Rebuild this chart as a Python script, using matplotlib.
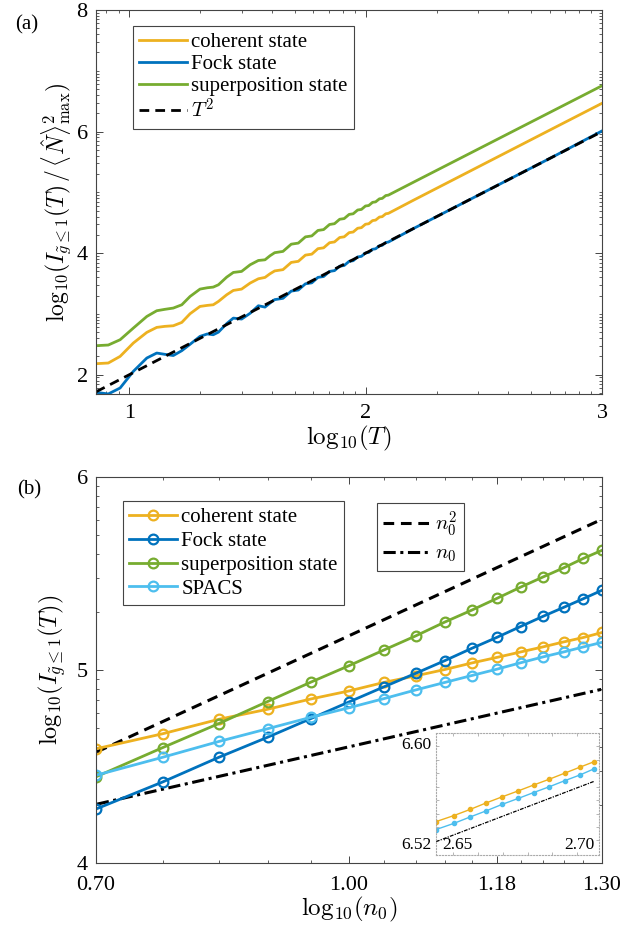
import numpy as np
import matplotlib
matplotlib.use('Agg')
from matplotlib import pyplot as plt
from matplotlib.lines import Line2D

plt.rcParams['font.family'] = ['Liberation Serif', 'DejaVu Serif']
plt.rcParams['mathtext.fontset'] = 'cm'

# colours (MATLAB default order)
c_coh = '#EDB120'
c_fock = '#0072BD'
c_sup = '#77AC30'
c_spacs = '#4DBEEE'

# ---- panel (a): log10(T) vs log10(I / <N>^2_max) ----
logT = [0.859, 0.911, 0.961, 1.017, 1.074, 1.116, 1.150, 1.186, 1.222, 1.257,
        1.299, 1.330, 1.355, 1.377, 1.412, 1.440, 1.475, 1.511, 1.546, 1.574,
        1.595, 1.615, 1.650, 1.685, 1.715, 1.745, 1.772, 1.798, 1.822, 1.847,
        1.868, 1.890, 1.909, 1.930, 1.947, 1.966, 1.982, 1.999, 2.013, 2.029,
        2.042, 2.058, 2.070, 2.085, 2.096, 2.2, 2.4, 2.6, 2.8, 3.0]
a_coherent = [2.181, 2.192, 2.301, 2.521, 2.696, 2.778, 2.795, 2.805, 2.860, 3.003,
              3.123, 3.140, 3.150, 3.205, 3.315, 3.386, 3.408, 3.507, 3.578, 3.600,
              3.660, 3.707, 3.728, 3.847, 3.865, 3.967, 3.983, 4.073, 4.087, 4.171,
              4.184, 4.257, 4.268, 4.337, 4.347, 4.409, 4.419, 4.475, 4.483, 4.535,
              4.543, 4.593, 4.600, 4.647, 4.654, 4.866, 5.266, 5.666, 6.066, 6.465]
a_fock = [1.710, 1.683, 1.781, 2.055, 2.274, 2.356, 2.335, 2.315, 2.395, 2.500,
          2.630, 2.670, 2.657, 2.700, 2.840, 2.931, 2.915, 3.010, 3.134, 3.112,
          3.178, 3.235, 3.256, 3.375, 3.393, 3.495, 3.511, 3.601, 3.615, 3.699,
          3.712, 3.785, 3.796, 3.865, 3.875, 3.937, 3.947, 4.003, 4.011, 4.063,
          4.071, 4.121, 4.128, 4.175, 4.182, 4.400, 4.800, 5.200, 5.600, 6.010]
a_superpos = [2.477, 2.488, 2.575, 2.767, 2.958, 3.052, 3.075, 3.096, 3.150, 3.287,
              3.408, 3.430, 3.441, 3.479, 3.605, 3.682, 3.699, 3.808, 3.879, 3.890,
              3.956, 4.007, 4.028, 4.147, 4.165, 4.267, 4.283, 4.373, 4.387, 4.471,
              4.484, 4.557, 4.568, 4.637, 4.647, 4.709, 4.719, 4.775, 4.783, 4.835,
              4.843, 4.893, 4.900, 4.947, 4.954, 5.162, 5.560, 5.958, 6.356, 6.754]
T2_x = [0.859, 3.0]
T2_y = [1.718, 6.0]

# ---- panel (b): log10(n0) vs log10(I) ----
n0 = [5, 6, 7, 8, 9, 10, 11, 12, 13, 14, 15, 16, 17, 18, 19, 20]
b_coherent = [4.592, 4.670, 4.745, 4.797, 4.850, 4.892, 4.936, 4.970, 5.003, 5.037,
              5.066, 5.094, 5.120, 5.146, 5.169, 5.195]
b_fock = [4.280, 4.420, 4.548, 4.652, 4.748, 4.835, 4.913, 4.983, 5.049, 5.113,
          5.170, 5.226, 5.278, 5.325, 5.370, 5.414]
b_superpos = [4.447, 4.598, 4.723, 4.837, 4.937, 5.023, 5.104, 5.177, 5.249, 5.311,
              5.372, 5.430, 5.482, 5.530, 5.579, 5.621]
b_spacs = [4.455, 4.548, 4.630, 4.696, 4.755, 4.805, 4.852, 4.897, 4.936, 4.972,
           5.005, 5.038, 5.068, 5.094, 5.120, 5.144]
ref_x = [0.70, 1.30]
ref_n0sq = [4.576, 5.780]
ref_n0 = [4.305, 4.900]

# inset
in_x = [2.6431, 2.6503, 2.6569, 2.6633, 2.6697, 2.6763, 2.6824, 2.6887, 2.6949,
        2.7011, 2.7067]
in_coherent = [6.5440, 6.5485, 6.5531, 6.5579, 6.5624, 6.5669, 6.5712, 6.5755,
               6.5800, 6.5845, 6.5885]
in_spacs = [6.5381, 6.5427, 6.5475, 6.5520, 6.5568, 6.5613, 6.5656, 6.5699,
            6.5744, 6.5787, 6.5832]
in_ref_x = [2.6431, 2.7067]
in_ref_y = [6.5291, 6.5739]


def matlab_axes(ax, xpad=7):
    for s in ax.spines.values():
        s.set_color('#444444')
        s.set_linewidth(0.8)
    ax.tick_params(which='both', direction='in', top=True, right=True,
                   colors='#444444', labelcolor='black', labelsize=16)
    ax.tick_params(which='major', length=5, width=0.7)
    ax.tick_params(which='minor', length=2.5, width=0.6)
    ax.tick_params(axis='x', which='major', pad=xpad)
    ax.tick_params(axis='y', which='major', pad=6)


def legend_box(ax, *args, **kw):
    leg = ax.legend(*args, loc='upper left', fontsize=15, frameon=True,
                    fancybox=False, edgecolor='#444444', framealpha=1,
                    handlelength=2.3, handletextpad=0.2, borderpad=0.3,
                    borderaxespad=0, **kw)
    leg.get_frame().set_linewidth(0.8)
    return leg


fig = plt.figure(figsize=(6.43, 9.32), dpi=100)
ax1 = fig.add_axes([0.1493, 0.5773, 0.787, 0.412])
ax2 = fig.add_axes([0.1493, 0.0740, 0.787, 0.414])

# panel (a)
ax1.plot(logT, a_coherent, color=c_coh, lw=2.0, label='coherent state')
ax1.plot(logT, a_fock, color=c_fock, lw=2.0, label='Fock state')
ax1.plot(logT, a_superpos, color=c_sup, lw=2.0, label='superposition state')
ax1.plot(T2_x, T2_y, color='black', lw=2.0, ls=(0, (3.5, 2.2)), label='$T^2$')
ax1.set_xlim(0.859, 3.0)
ax1.set_ylim(1.683, 8.0)
ax1.set_xticks([1, 2, 3])
ax1.set_yticks([2, 4, 6, 8])
k = np.log10(np.arange(2, 10))
xminor = [x for x in np.concatenate([0 + k, 1 + k, 2 + k, [2]]) if 0.86 < x < 3]
yminor = [y for y in np.concatenate([d + k for d in range(1, 8)] + [[3, 5, 7]]) if 1.69 < y < 8]
ax1.set_xticks(xminor, minor=True)
ax1.set_yticks(yminor, minor=True)
ax1.set_xlabel(r'$\mathrm{log}_{10}(T)$', fontsize=18, labelpad=1)
ax1.set_ylabel(r'$\mathrm{log}_{10}(I_{\tilde{g}\leq 1}(T)\,/\,\langle\hat{N}\rangle^2_{\mathrm{max}})$',
               fontsize=17, labelpad=2)
matlab_axes(ax1)
legend_box(ax1, bbox_to_anchor=(0.073, 0.958), labelspacing=0.12)

# panel (b)
lx = np.log10(n0)
ax2.plot(ref_x, ref_n0sq, color='black', lw=2.2, ls=(0, (3.5, 2.2)))
ax2.plot(ref_x, ref_n0, color='black', lw=2.2, ls=(0, (4, 1.5, 1, 1.5)))
mk = dict(marker='o', ms=7, mfc='none', mew=1.6, lw=2.0)
ax2.plot(lx, b_coherent, color=c_coh, label='coherent state', **mk)
ax2.plot(lx, b_fock, color=c_fock, label='Fock state', **mk)
ax2.plot(lx, b_superpos, color=c_sup, label='superposition state', **mk)
ax2.plot(lx, b_spacs, color=c_spacs, label='SPACS', **mk)
ax2.set_xlim(np.log10(5), np.log10(20))
ax2.set_ylim(4, 6)
ax2.set_xticks(np.log10([5, 10, 15, 20]))
ax2.set_xticklabels(['0.70', '1.00', '1.18', '1.30'])
ax2.set_xticks(np.log10([6, 7, 8, 9, 11, 12, 13, 14, 16, 17, 18, 19]), minor=True)
ax2.set_yticks([4, 5, 6])
ax2.set_yticks([y for y in np.concatenate([4 + k, 5 + k])], minor=True)
ax2.set_xlabel(r'$\mathrm{log}_{10}(n_0)$', fontsize=18, labelpad=0)
ax2.set_ylabel(r'$\mathrm{log}_{10}(I_{\tilde{g}\leq 1}(T))$', fontsize=17.5, labelpad=6)
matlab_axes(ax2, xpad=9)
leg2 = legend_box(ax2, bbox_to_anchor=(0.053, 0.937), labelspacing=0.2)
ax2.add_artist(leg2)
ref_handles = [Line2D([], [], color='black', lw=2.2, ls=(0, (3.5, 2.2))),
               Line2D([], [], color='black', lw=2.2, ls=(0, (4, 1.5, 1, 1.5)))]
legend_box(ax2, ref_handles, ['$n_0^2$', '$n_0$'], bbox_to_anchor=(0.555, 0.932),
           labelspacing=0.25)

# inset
axin = fig.add_axes([0.678, 0.0826, 0.2535, 0.131])
axin.plot(in_x, in_coherent, color=c_coh, lw=1.0, marker='o', ms=3)
axin.plot(in_x, in_spacs, color=c_spacs, lw=1.0, marker='o', ms=3)
axin.plot(in_ref_x, in_ref_y, color='black', lw=0.9, ls=(0, (3, 1, 1, 1)))
axin.set_xlim(2.6431, 2.7087)
axin.set_ylim(6.5192, 6.6099)
axin.set_xticks([2.65, 2.66, 2.67, 2.68, 2.69, 2.70])
axin.set_yticks([6.53, 6.54, 6.55, 6.56, 6.57, 6.58, 6.59, 6.60])
axin.tick_params(direction='in', length=2, width=0.5, colors='#999999',
                 top=True, right=True, labelbottom=False, labelleft=False)
for s in axin.spines.values():
    s.set_color('#aaaaaa')
    s.set_linewidth(0.8)
    s.set_linestyle(':')
axin.text(-0.03, 0.90, '6.60', transform=axin.transAxes, ha='right', va='center', fontsize=12.5)
axin.text(-0.03, 0.08, '6.52', transform=axin.transAxes, ha='right', va='center', fontsize=12.5)
axin.text(0.04, 0.08, '2.65', transform=axin.transAxes, ha='left', va='center', fontsize=12.5)
axin.text(0.97, 0.08, '2.70', transform=axin.transAxes, ha='right', va='center', fontsize=12.5)

fig.text(0.042, 0.973, '(a)', fontsize=15, ha='center', va='center')
fig.text(0.045, 0.474, '(b)', fontsize=15, ha='center', va='center')

fig.savefig('out.png', dpi=100)
